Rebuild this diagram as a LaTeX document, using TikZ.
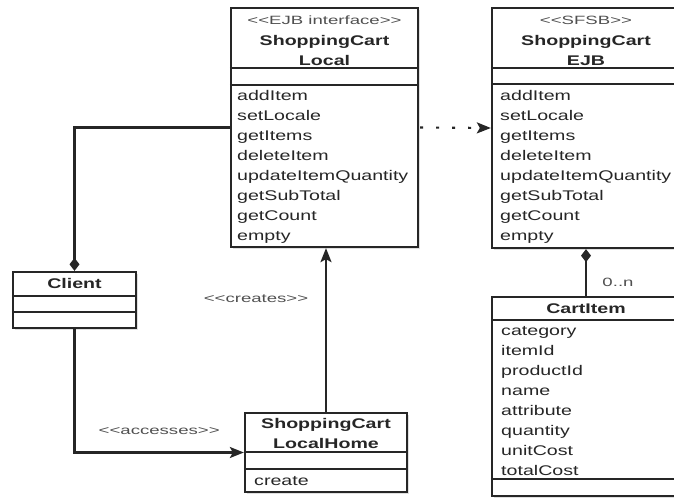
\documentclass[tikz,border=0pt]{standalone}
\usepackage{fontspec}
\setmainfont{Liberation Sans}[FakeStretch=1.4]
\newfontfamily\stereofont{Liberation Sans}[FakeStretch=1.55]
\usetikzlibrary{arrows.meta,shadows}
\definecolor{ink}{HTML}{262626}
\definecolor{soft}{HTML}{505050}

\begin{document}
\begin{tikzpicture}[x=1pt,y=-1pt,
  classbox/.style={draw=ink,line width=2.3pt,fill=white,inner sep=0pt,drop shadow={opacity=0.25,shadow xshift=1.5pt,shadow yshift=-1.5pt}},
  title/.style={font=\fontsize{14}{16}\selectfont\bfseries,text=ink,inner sep=0pt,anchor=base},
  member/.style={font=\fontsize{14}{16}\selectfont,text=ink,inner sep=0pt,anchor=base west},
  stereo/.style={font=\stereofont\fontsize{12}{14}\selectfont,text=soft,inner sep=0pt,anchor=base},
  lab/.style={font=\stereofont\fontsize{12}{14}\selectfont,text=soft,inner sep=0pt},
  rule/.style={draw=ink,line width=2.2pt},
  link/.style={draw=ink,line width=2.2pt},
  comp/.style={link,-{Diamond[length=13pt,width=10pt]}},
  dep/.style={link,-{Stealth[length=14pt,width=11pt,inset=3pt]}},
  real/.style={dep,dash pattern=on 3pt off 13pt,dash phase=-1pt}]
\useasboundingbox (0,0) rectangle (674,498);
\clip (0,0) rectangle (674,498);

\node[classbox,minimum width=187pt,minimum height=239pt] (local) at (324.5,127.5) {};
\node[classbox,minimum width=188pt,minimum height=240pt] (ejb) at (586,128) {};
\node[classbox,minimum width=123pt,minimum height=56pt] (client) at (74.5,300) {};
\node[classbox,minimum width=162pt,minimum height=79pt] (home) at (326,452.5) {};
\node[classbox,minimum width=188pt,minimum height=199pt] (cart) at (586,396.5) {};

\node[stereo] (local-st) at (324.5,24) {<<EJB interface>>};
\node[title] (local-t1) at (324.5,45) {ShoppingCart};
\node[title] (local-t2) at (324.5,65) {Local};
\draw[rule] (local.west |- 0,68) -- (local.east |- 0,68);
\draw[rule] (local.west |- 0,85) -- (local.east |- 0,85);
\foreach \m [count=\i] in {addItem,setLocale,getItems,deleteItem,updateItemQuantity,getSubTotal,getCount,empty}
  \node[member] (local-m\i) at (237,{80+20*\i}) {\m};

\node[stereo] (ejb-st) at (586,24) {<<SFSB>>};
\node[title] (ejb-t1) at (586,45) {ShoppingCart};
\node[title] (ejb-t2) at (586,65) {EJB};
\draw[rule] (ejb.west |- 0,68) -- (ejb.east |- 0,68);
\draw[rule] (ejb.west |- 0,84) -- (ejb.east |- 0,84);
\foreach \m [count=\i] in {addItem,setLocale,getItems,deleteItem,updateItemQuantity,getSubTotal,getCount,empty}
  \node[member] (ejb-m\i) at (500,{80+20*\i}) {\m};

\node[title] (client-t) at (74.5,288) {Client};
\draw[rule] (client.west |- 0,296) -- (client.east |- 0,296);
\draw[rule] (client.west |- 0,312) -- (client.east |- 0,312);

\node[title] (home-t1) at (326,428) {ShoppingCart};
\node[title] (home-t2) at (326,448) {LocalHome};
\draw[rule] (home.west |- 0,452) -- (home.east |- 0,452);
\draw[rule] (home.west |- 0,469) -- (home.east |- 0,469);
\node[member] (home-m1) at (254,485) {create};

\node[title] (cart-t) at (586,313) {CartItem};
\draw[rule] (cart.west |- 0,320) -- (cart.east |- 0,320);
\draw[rule] (cart.west |- 0,479) -- (cart.east |- 0,479);
\foreach \a [count=\i] in {category,itemId,productId,name,attribute,quantity,unitCost,totalCost}
  \node[member] (cart-a\i) at (501,{315+20*\i}) {\a};

\draw[comp] (local.west) -| (client.north);
\draw[dep] (client.south) |- node[lab,pos=0.75,yshift=21pt] (acc) {<<accesses>>} (home.west);
\draw[dep] (home.north) -- node[lab,pos=0.69,xshift=-70pt] (cre) {<<creates>>} (home.north |- local.south);
\draw[real] (local.east) -- (ejb.west);
\draw[comp] (cart.north) -- node[lab,pos=0.29,xshift=32pt] (mult) {0..n} (ejb.south);
\end{tikzpicture}
\end{document}
